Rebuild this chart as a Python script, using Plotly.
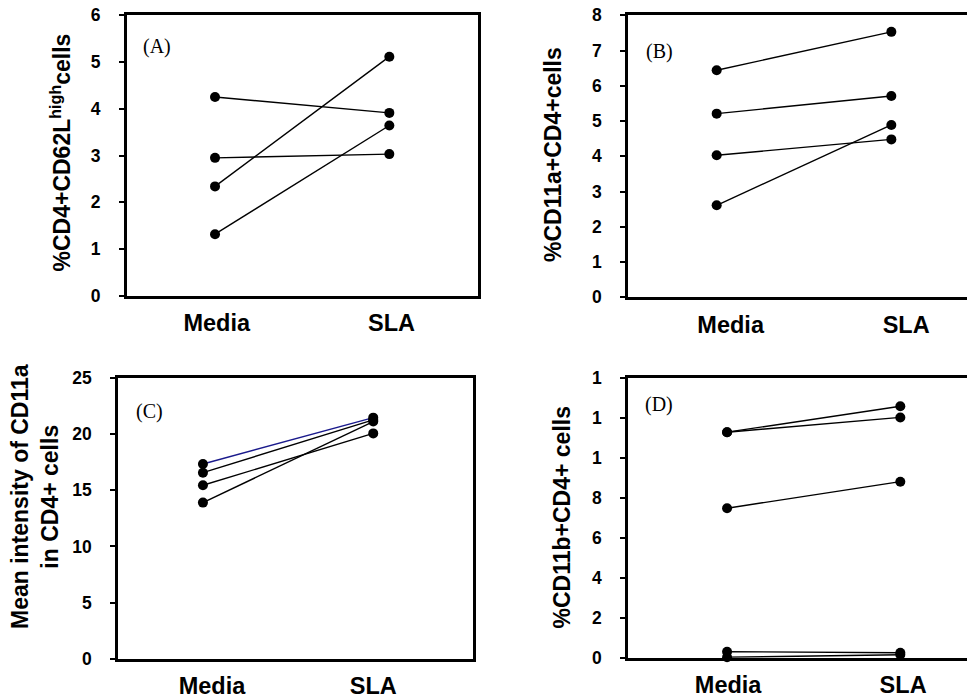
import plotly.graph_objects as go

# page body has an 8px default margin; figure sized to fit the 975x699 window
OFF = 8
W, H = 975 - OFF, 699 - OFF

categories = ["Media", "SLA"]

# Panel A: %CD4+CD62L high cells
media_A = [4.25, 2.95, 2.34, 1.32]
sla_A = [3.91, 3.03, 5.11, 3.64]

# Panel B: %CD11a+CD4+ cells
media_B = [6.44, 5.21, 4.03, 2.61]
sla_B = [7.53, 5.71, 4.48, 4.89]

# Panel C: mean intensity of CD11a in CD4+ cells
media_C = [17.33, 16.56, 15.44, 13.9]
sla_C = [21.45, 21.25, 20.05, 21.1]
colors_C = ["#1a1a8c", "black", "black", "black"]

# Panel D: %CD11b+CD4+ cells
media_D = [11.3, 11.3, 7.49, 0.3, 0.02]
sla_D = [12.6, 12.04, 8.82, 0.25, 0.15]

ytick_A = [0, 1, 2, 3, 4, 5, 6]
ytick_B = [0, 1, 2, 3, 4, 5, 6, 7, 8]
ytick_C = [0, 5, 10, 15, 20, 25]
ytick_D = [0, 2, 4, 6, 8, 10, 12, 14]
ytext_D = ["0", "2", "4", "6", "8", "1", "1", "1"]

xpos = list(range(len(categories)))

fig = go.Figure()

def px_x(p):
    return min(1.0, (p - OFF) / W)

def px_y(p):
    return 1 - (p - OFF) / H

def add_panel(n, media, sla, colors=None):
    for i, (m, s) in enumerate(zip(media, sla)):
        c = colors[i] if colors else "black"
        fig.add_trace(go.Scatter(
            x=xpos, y=[m, s], mode="lines+markers",
            line=dict(color=c, width=1.4),
            marker=dict(color="black", size=10),
            cliponaxis=False, showlegend=False, hoverinfo="skip",
            xaxis="x" + ("" if n == 1 else str(n)),
            yaxis="y" + ("" if n == 1 else str(n)),
        ))

add_panel(1, media_A, sla_A)
add_panel(2, media_B, sla_B)
add_panel(3, media_C, sla_C, colors_C)
add_panel(4, media_D, sla_D)

tickfont = dict(family="Liberation Sans", size=17.5, color="black", weight=700)
catfont = dict(family="Liberation Sans", size=23.5, color="black", weight=700)

def xax(domain, rng, tickvals, anchor):
    return dict(domain=domain, range=rng, anchor=anchor,
                tickmode="array", tickvals=tickvals, ticktext=categories,
                ticks="", showgrid=False, zeroline=False, tickangle=0,
                showline=True, linewidth=3, linecolor="black", mirror=True,
                tickfont=catfont, ticklabelstandoff=4, fixedrange=True,
                automargin=False, ticklabeloverflow="allow")

def yax(domain, rng, tickvals, anchor, mirror, ticktext=None):
    d = dict(domain=domain, range=rng, anchor=anchor,
             tickmode="array", tickvals=tickvals,
             ticktext=ticktext if ticktext else [str(v) for v in tickvals],
             ticks="outside", ticklen=5, tickwidth=1.5, tickcolor="black",
             showgrid=False, zeroline=False,
             showline=True, linewidth=3, linecolor="black", mirror=mirror,
             tickfont=tickfont, ticklabelstandoff=15, fixedrange=True,
             automargin=False, ticklabeloverflow="allow")
    return d

fig.update_layout(
    width=W, height=H, autosize=False,
    margin=dict(l=0, r=0, t=0, b=0, autoexpand=False),
    paper_bgcolor="white", plot_bgcolor="white",
    xaxis=xax([px_x(127), px_x(477.7)], [-0.505, 1.507], [0.01, 1.013], "y"),
    yaxis=yax([px_y(296), px_y(15)], [0, 6], ytick_A, "x", True),
    xaxis2=xax([px_x(628.3), 1.0], [-0.506, 1.479], [0.08, 1.085], "y2"),
    yaxis2=yax([px_y(297.3), px_y(15.3)], [0, 8], ytick_B, "x2", False),
    xaxis3=xax([px_x(118.3), px_x(472.7)], [-0.497, 1.584], [0.053, 1.0], "y3"),
    yaxis3=yax([px_y(659), px_y(377.7)], [0, 25], ytick_C, "x3", True),
    xaxis4=xax([px_x(628.3), 1.0], [-0.570, 1.431], [0.006, 1.016], "y4"),
    yaxis4=yax([px_y(657.7), px_y(378.3)], [0, 14], ytick_D, "x4", False, ytext_D),
)

titlefont = dict(family="Liberation Sans", size=23, color="black", weight=700)
titles = [
    ("%CD4+CD62L<sup>high</sup>cells", 61, 152.5),
    ("%CD11a+CD4+cells", 553, 155),
    ("Mean intensity of CD11a<br>in CD4+ cells", 35, 497),
    ("%CD11b+CD4+ cells", 562, 517.5),
]
for text, x, y in titles:
    fig.add_annotation(text=text, x=px_x(x), y=px_y(y), xref="paper", yref="paper",
                       xanchor="center", yanchor="middle", textangle=-90,
                       showarrow=False, font=titlefont, align="center")

labelfont = dict(family="Liberation Serif", size=20, color="black")
labels = [("(A)", 157, 46), ("(B)", 659, 51.5), ("(C)", 149, 411), ("(D)", 659, 405)]
for text, x, y in labels:
    fig.add_annotation(text=text, x=px_x(x), y=px_y(y), xref="paper", yref="paper",
                       xanchor="center", yanchor="middle", showarrow=False, font=labelfont)

fig.write_html("out.html")
